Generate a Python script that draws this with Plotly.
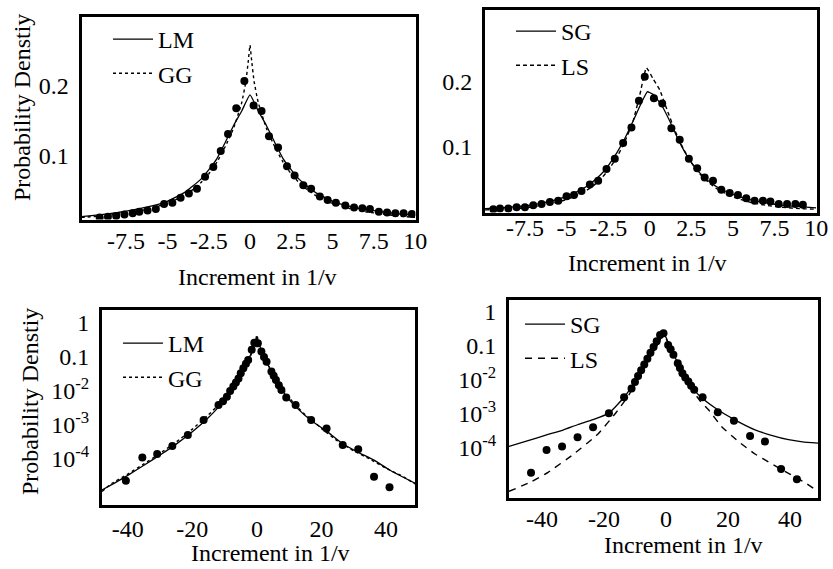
import plotly.graph_objects as go

# ---------------- Panel A (top-left, linear): data points, LM, GG ----------------
a_pts_x = [-9.1, -8.6, -8.1, -7.6, -7.1, -6.7, -6.2, -5.7, -5.2, -4.7, -4.2, -3.7, -3.21, -2.72,
           -2.22, -1.77, -1.33, -0.83, -0.34, 0.22, 0.7, 1.15, 1.7, 2.24, 2.7, 3.23, 3.7, 4.23,
           4.7, 5.2, 5.77, 6.3, 6.8, 7.26, 7.8, 8.3, 8.8, 9.3, 9.8]
a_pts_y = [0.011, 0.012, 0.013, 0.015, 0.017, 0.019, 0.021, 0.023, 0.030, 0.032, 0.039, 0.045, 0.052, 0.069,
           0.083, 0.106, 0.130, 0.167, 0.206, 0.171, 0.163, 0.127, 0.111, 0.084, 0.071, 0.057, 0.052, 0.041,
           0.036, 0.032, 0.028, 0.025, 0.024, 0.023, 0.019, 0.018, 0.017, 0.017, 0.016]
lm_x = [-10.2, -9, -8, -7, -6, -5, -4, -3.5, -3, -2.5, -2, -1.5, -1, -0.5, 0, 0.5, 1, 1.5, 2, 2.5,
        3, 3.5, 4, 5, 6, 7, 8, 9, 10]
lm_y = [0.012, 0.015, 0.018, 0.022, 0.027, 0.034, 0.046, 0.055, 0.065, 0.079, 0.095, 0.118, 0.142, 0.163,
        0.186, 0.163, 0.142, 0.118, 0.095, 0.079, 0.065, 0.055, 0.046, 0.034, 0.027, 0.022, 0.019, 0.016, 0.014]
gg_x = [-10.2, -9, -8, -7, -6, -5, -4, -3.5, -3, -2.5, -2, -1.5, -1, -0.5, -0.25, -0.1, 0, 0.1, 0.25,
        0.5, 1, 1.5, 2, 2.5, 3, 3.5, 4, 5, 6, 7, 8, 9, 10]
gg_y = [0.011, 0.013, 0.016, 0.019, 0.024, 0.031, 0.042, 0.050, 0.060, 0.073, 0.090, 0.112, 0.138, 0.175,
        0.205, 0.235, 0.257, 0.235, 0.205, 0.175, 0.138, 0.112, 0.090, 0.073, 0.060, 0.050, 0.042, 0.031,
        0.024, 0.019, 0.016, 0.013, 0.011]

# ---------------- Panel B (top-right, linear): data points, SG, LS ----------------
b_pts_x = [-9.4, -9.0, -8.5, -8.0, -7.5, -7.0, -6.5, -6.0, -5.5, -5.0, -4.55, -4.1, -3.6, -3.1, -2.6,
           -2.1, -1.6, -1.1, -0.65, -0.3, 0.25, 0.75, 1.3, 1.8, 2.35, 2.85, 3.3, 3.8, 4.3, 4.8, 5.3,
           5.8, 6.3, 6.8, 7.25, 7.75, 8.25, 8.75, 9.2]
b_pts_y = [0.004, 0.005, 0.005, 0.007, 0.007, 0.010, 0.012, 0.015, 0.017, 0.024, 0.026, 0.032, 0.042, 0.048,
           0.066, 0.082, 0.106, 0.130, 0.171, 0.208, 0.175, 0.167, 0.129, 0.111, 0.082, 0.067, 0.053, 0.048,
           0.034, 0.029, 0.026, 0.021, 0.017, 0.017, 0.016, 0.012, 0.012, 0.012, 0.011]
sg_x = [-9.9, -9, -8, -7, -6, -5, -4, -3.5, -3, -2.5, -2, -1.5, -1, -0.5, -0.15, 0.2, 0.7, 1.2, 1.7,
        2.2, 2.7, 3.2, 3.7, 4.2, 5, 6, 7, 8, 9, 10]
sg_y = [0.005, 0.006, 0.008, 0.011, 0.016, 0.024, 0.036, 0.045, 0.056, 0.071, 0.090, 0.113, 0.140, 0.168,
        0.185, 0.181, 0.165, 0.140, 0.112, 0.088, 0.069, 0.055, 0.044, 0.036, 0.027, 0.019, 0.014, 0.010,
        0.008, 0.006]
ls_x = [-9.9, -9, -8, -7, -6, -5, -4, -3.5, -3, -2.5, -2, -1.5, -1, -0.6, -0.2, 0.2, 0.6, 1, 1.5, 2,
        2.5, 3, 3.5, 4, 5, 6, 7, 8, 9, 10]
ls_y = [0.003, 0.004, 0.005, 0.008, 0.012, 0.019, 0.030, 0.038, 0.049, 0.064, 0.083, 0.108, 0.140, 0.180,
        0.222, 0.205, 0.188, 0.160, 0.126, 0.098, 0.076, 0.059, 0.046, 0.036, 0.023, 0.015, 0.010, 0.007,
        0.005, 0.004]

# ---------------- Panel C (bottom-left, log): data points, LM, GG ----------------
c_pts_x = [-40.6, -35.5, -30.9, -26.2, -21.4, -16.5, -11.9, -10.5, -9.3, -8.3, -7.3, -6.5, -5.7, -5.0,
           -4.2, -3.4, -2.7, -1.6, -0.8, 0.3, 1.4, 2.2, 3.0, 4.5, 5.2, 5.9, 6.8, 7.6, 9.1, 12.0, 16.8,
           21.6, 26.6, 31.4, 36.3, 41.1]
c_pts_y = [2.29e-5, 1.12e-4, 1.41e-4, 2.40e-4, 5.13e-4, 1.41e-3, 3.89e-3, 5.0e-3, 6.76e-3, 1.0e-2,
           1.35e-2, 1.78e-2, 2.34e-2, 3.31e-2, 4.68e-2, 6.31e-2, 8.13e-2, 0.162, 0.263, 0.251, 0.145,
           0.1, 0.0724, 0.0372, 0.0282, 0.0209, 0.0148, 0.0107, 6.46e-3, 3.89e-3, 1.41e-3, 7.94e-4,
           2.57e-4, 1.95e-4, 3.02e-5, 1.48e-5]
lmc_x = [-48, -44, -40, -35, -30, -25, -20, -15, -12, -10, -8, -6, -4, -3, -2, -1, 0, 1, 2, 3, 4.5, 6,
         8, 10, 12, 16.8, 21.6, 26.6, 31.4, 36.3, 41.1, 49]
lmc_y = [1.23e-5, 2.0e-5, 3.31e-5, 6.61e-5, 1.32e-4, 2.75e-4, 6.31e-4, 1.66e-3, 3.31e-3, 6.03e-3,
         1.05e-2, 2.09e-2, 4.68e-2, 7.24e-2, 0.112, 0.2, 0.355, 0.2, 0.112, 0.0724, 0.0372, 0.0209,
         0.01, 5.62e-3, 3.47e-3, 1.35e-3, 6.61e-4, 2.82e-4, 1.58e-4, 9.33e-5, 4.79e-5, 1.95e-5]
ggc_x = [-48, -45, -40, -35, -30, -25, -20, -15, -12, -10, -8, -6, -4, -3, -2, -1, -0.4, 0, 0.4, 1, 2,
         3, 4.5, 6, 8, 10, 12, 15, 17, 20, 25, 30, 35, 40, 45, 49]
ggc_y = [1.12e-5, 1.91e-5, 3.63e-5, 7.24e-5, 1.48e-4, 3.16e-4, 7.59e-4, 2.0e-3, 3.8e-3, 6.46e-3,
         1.12e-2, 2.19e-2, 4.68e-2, 7.08e-2, 0.107, 0.186, 0.302, 0.447, 0.302, 0.186, 0.107, 0.0708,
         0.038, 0.0219, 0.0112, 6.46e-3, 3.8e-3, 2.0e-3, 1.45e-3, 7.94e-4, 3.39e-4, 1.74e-4, 1.0e-4,
         5.37e-5, 3.16e-5, 1.86e-5]

# ---------------- Panel D (bottom-right, log): data points, SG, LS ----------------
d_pts_x = [-43.5, -38.5, -33.5, -28.5, -23.5, -18.4, -13.5, -11.1, -10, -9, -8, -7, -6, -5, -4, -3,
           -1.9, -0.8, 0.7, 1.5, 2.4, 3.8, 4.5, 5.3, 6.2, 7.2, 8.1, 9.1, 11.8, 16.7, 21.9, 27.1, 31.9,
           37.1, 42.2]
d_pts_y = [1.86e-5, 8.71e-5, 1.10e-4, 2.04e-4, 4.07e-4, 1.05e-3, 3.09e-3, 5.62e-3, 8.71e-3, 1.29e-2,
           1.91e-2, 2.82e-2, 4.17e-2, 6.31e-2, 9.33e-2, 0.138, 0.209, 0.234, 0.107, 0.0794, 0.055,
           0.0309, 0.0224, 0.0158, 0.0117, 8.91e-3, 6.76e-3, 5.13e-3, 3.09e-3, 1.12e-3, 6.31e-4,
           2.24e-4, 1.55e-4, 2.40e-5, 1.20e-5]
sgd_x = [-50.6, -45, -38.5, -33, -28.5, -23.5, -18.4, -13.5, -10, -8, -6, -4, -2, -1, 0, 1, 2.4, 3.8,
         5.3, 7.2, 9.1, 11.8, 16.7, 21.9, 28.7, 34, 39.5, 44, 49]
sgd_y = [1.10e-4, 1.58e-4, 2.40e-4, 3.39e-4, 4.79e-4, 6.76e-4, 1.05e-3, 3.09e-3, 8.91e-3, 0.0178,
         0.0355, 0.0708, 0.141, 0.224, 0.178, 0.112, 0.0575, 0.0316, 0.0166, 8.71e-3, 5.01e-3,
         2.82e-3, 1.32e-3, 6.92e-4, 3.39e-4, 2.34e-4, 1.74e-4, 1.51e-4, 1.38e-4]
lsd_x = [-50.6, -43.3, -38, -30, -22, -16, -12, -10, -8, -6, -4, -2, -1, 0, 1, 2.4, 3.8, 5.3, 7.2,
         9.1, 11, 13.7, 17.9, 23.3, 28.7, 34.1, 39.5, 44.8, 49]
lsd_y = [5.25e-6, 1.02e-5, 1.91e-5, 6.31e-5, 2.51e-4, 1.12e-3, 3.55e-3, 7.59e-3, 0.0158, 0.0339,
         0.0708, 0.151, 0.24, 0.166, 0.107, 0.0562, 0.0302, 0.0158, 7.94e-3, 4.17e-3, 2.4e-3,
         1.32e-3, 4.27e-4, 1.55e-4, 6.61e-5, 3.39e-5, 1.78e-5, 9.55e-6, 5.25e-6]

lin_ticks_x = [-7.5, -5, -2.5, 0, 2.5, 5, 7.5, 10]
lin_ticktext_x = ["-7.5", "-5", "-2.5", "0", "2.5", "5", "7.5", "10"]
lin_ticks_y = [0.1, 0.2]
lin_ticktext_y = ["0.1", "0.2"]
log_ticks_x = [-40, -20, 0, 20, 40]
log_ticktext_x = ["-40", "-20", "0", "20", "40"]
log_ticks_y = [1, 0.1, 0.01, 0.001, 0.0001]
log_ticktext = ["1", "0.1", "10<sup>-2</sup>", "10<sup>-3</sup>", "10<sup>-4</sup>"]

FONT = "Liberation Serif, Times New Roman, serif"
FS = 24
W, H = 833, 569

fig = go.Figure()

def add_panel(n, px, py, cx, cy, dx, dy, name_c, name_d, dash_d, legend_name):
    ax = "" if n == 1 else str(n)
    fig.add_trace(go.Scatter(x=px, y=py, mode="markers", xaxis="x" + ax, yaxis="y" + ax,
                             marker=dict(size=8, color="black"), showlegend=False))
    fig.add_trace(go.Scatter(x=cx, y=cy, mode="lines", name=name_c, xaxis="x" + ax, yaxis="y" + ax,
                             line=dict(color="black", width=1.3, shape="spline", smoothing=0.4),
                             legend=legend_name))
    fig.add_trace(go.Scatter(x=dx, y=dy, mode="lines", name=name_d, xaxis="x" + ax, yaxis="y" + ax,
                             line=dict(color="black", width=1.4, dash=dash_d, shape="spline", smoothing=0.4),
                             legend=legend_name))

add_panel(1, a_pts_x, a_pts_y, lm_x, lm_y, gg_x, gg_y, "LM", "GG", "dot", "legend")
add_panel(2, b_pts_x, b_pts_y, sg_x, sg_y, ls_x, ls_y, "SG", "LS", "4px,3px", "legend2")
add_panel(3, c_pts_x, c_pts_y, lmc_x, lmc_y, ggc_x, ggc_y, "LM", "GG", "dot", "legend3")
add_panel(4, d_pts_x, d_pts_y, sgd_x, sgd_y, lsd_x, lsd_y, "SG", "LS", "7px,6px", "legend4")

def dom(a, b, total, flip=False):
    if flip:
        return [1 - b / total, 1 - a / total]
    return [a / total, b / total]

base = dict(showline=True, linewidth=3, linecolor="black", mirror=True, showgrid=False,
            zeroline=False, tickfont=dict(family=FONT, size=FS, color="black"))
xax = dict(ticks="", **base)
yax = dict(ticks="outside", ticklen=5, tickcolor="rgba(0,0,0,0)", **base)

fig.update_layout(
    xaxis=dict(domain=dom(81.5, 415.5, W), range=[-10.2, 10.02], tickvals=lin_ticks_x,
               ticktext=lin_ticktext_x, anchor="y", ticklabelstandoff=-2, **xax),
    yaxis=dict(domain=dom(16.5, 219.5, H, True), range=[0.008, 0.298], tickvals=lin_ticks_y,
               ticktext=lin_ticktext_y, anchor="x", **yax),
    xaxis2=dict(domain=dom(485, 816.5, W), range=[-9.9, 10.02], tickvals=lin_ticks_x,
                ticktext=lin_ticktext_x, anchor="y2", ticklabelstandoff=-8, **xax),
    yaxis2=dict(domain=dom(10, 212.5, H, True), range=[-0.001, 0.311], tickvals=lin_ticks_y,
                ticktext=lin_ticktext_y, anchor="x2", **yax),
    xaxis3=dict(domain=dom(102, 415, W), range=[-48, 49], tickvals=log_ticks_x,
                ticktext=log_ticktext_x, anchor="y3", ticklabelstandoff=0, **xax),
    yaxis3=dict(domain=dom(310, 505, H, True), type="log", range=[-5.35, 0.38],
                tickvals=log_ticks_y, ticktext=log_ticktext, anchor="x3", **yax),
    xaxis4=dict(domain=dom(509, 818, W), range=[-50.6, 49], tickvals=log_ticks_x,
                ticktext=log_ticktext_x, anchor="y4", ticklabelstandoff=-2, **xax),
    yaxis4=dict(domain=dom(300, 497.5, H, True), type="log", range=[-5.46, 0.35],
                tickvals=log_ticks_y, ticktext=log_ticktext, anchor="x4", **yax),
)

leg_common = dict(bgcolor="rgba(0,0,0,0)", borderwidth=0, xanchor="left", yanchor="top",
                  font=dict(family=FONT, size=FS, color="black"), itemwidth=40, tracegroupgap=0)
fig.update_layout(
    legend=dict(x=108 / W, y=1 - 17 / H, **leg_common),
    legend2=dict(x=511 / W, y=1 - 9 / H, **leg_common),
    legend3=dict(x=118 / W, y=1 - 321 / H, **leg_common),
    legend4=dict(x=520 / W, y=1 - 302 / H, **leg_common),
)

def ann(text, x, y, angle=0):
    return dict(text=text, x=x / W, y=1 - y / H, xref="paper", yref="paper", showarrow=False,
                xanchor="center", yanchor="middle", textangle=angle,
                font=dict(family=FONT, size=FS, color="black"))

fig.update_layout(annotations=[
    ann("Increment in 1/v", 257, 277),
    ann("Increment in 1/v", 647, 263),
    ann("Increment in 1/v", 270, 553),
    ann("Increment in 1/v", 683, 545),
    ann("Probability Denstiy", 22, 108, -90),
    ann("Probability Denstiy", 30, 402, -90),
])

fig.update_layout(width=W, height=H, margin=dict(l=0, r=0, t=0, b=0, autoexpand=False),
                  paper_bgcolor="white", plot_bgcolor="white", showlegend=True)

fig.write_html("out.html")
